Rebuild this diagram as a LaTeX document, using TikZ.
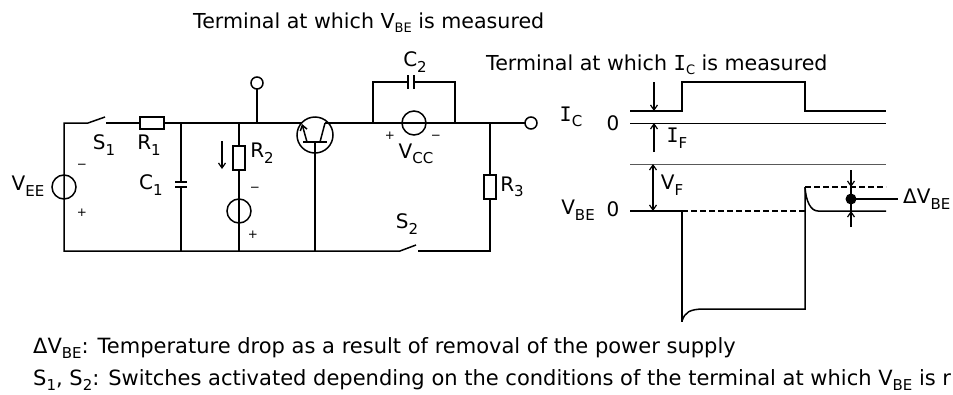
\documentclass[tikz,border=0pt]{standalone}
\usepackage{fontspec}
\setmainfont{DejaVu Sans}
\newfontfamily\serifI{DejaVu Sans Mono}
\usetikzlibrary{arrows.meta}
\newcommand{\Ichar}{{\serifI I}}
\newcommand{\sub}[1]{\raisebox{-0.28em}{\fontsize{15}{17}\selectfont #1}}
\newcommand{\subsm}[1]{\raisebox{-0.2em}{\fontsize{13}{15}\selectfont #1}}
\tikzset{
wire/.style={line width=1.5pt},
thinwire/.style={line width=1pt},
dashwire/.style={line width=1.5pt,dash pattern=on 6pt off 3pt},
res/.style={draw,line width=1.5pt,fill=white},
pole/.style={draw,circle,line width=1.5pt,fill=white,minimum size=12pt,inner sep=0pt},
lab/.style={inner sep=0pt,font=\fontsize{20}{23}\selectfont},
txt/.style={inner sep=0pt,anchor=base west,font=\fontsize{20.6}{24}\selectfont},
note/.style={inner sep=0pt,anchor=base west,font=\fontsize{21}{24}\selectfont},
sgn/.style={inner sep=0pt,font=\fontsize{12}{14}\selectfont},
tip/.style={-{Straight Barb[length=5pt,width=7pt]},line width=1.2pt},
}
\begin{document}
\begin{tikzpicture}[x=1pt,y=-1pt]
\useasboundingbox (0,0) rectangle (953,394);

% circuit
\draw[wire] (88,123) -- (64,123) -- (64,251) -- (400,251) -- (416,245);
\draw[wire] (418,251) -- (490,251) -- (490,123);
\draw[wire] (105,117) -- (88,123);
\draw[wire] (106,123) -- (302,123);
\draw[wire] (325,123) -- (525,123);
\draw[wire] (181,123) -- (181,182);
\draw[wire] (181,187) -- (181,251);
\draw[wire] (175,182) -- (187,182);
\draw[wire] (175,187) -- (187,187);
\draw[wire] (239,123) -- (239,251);
\draw[wire] (257,123) -- (257,89);
\draw[wire] (373,123) -- (373,82) -- (408,82);
\draw[wire] (414,82) -- (455,82) -- (455,123);
\draw[wire] (408,75) -- (408,89);
\draw[wire] (414,75) -- (414,89);
\node[res,minimum width=24pt,minimum height=12pt,inner sep=0pt] (r1) at (152,123) {};
\node[res,minimum width=12pt,minimum height=24pt,inner sep=0pt] (r2) at (239,158) {};
\node[res,minimum width=12pt,minimum height=24pt,inner sep=0pt] (r3) at (490,187) {};
\draw[wire] (64,187) circle (12);
\draw[wire] (239,211) circle (12);
\draw[wire] (414,123) circle (12);
\node[pole] (pb) at (257,83) {};
\node[pole] (pc) at (531,123) {};
\draw[tip] (222,141) -- (222,169);

% transistor
\draw[wire] (315,135) circle (18);
\draw[wire] (315,142) -- (315,251);
\draw[wire] (303,142) -- (327,142);
\draw[wire] (320,142) -- (325,123);
\draw[wire,-{Straight Barb[length=5pt,width=7pt]}] (307,142) -- (302,124);

% labels
\node[lab] at (28,186) {V\sub{EE}};
\node[lab] at (104,145) {S\sub{1}};
\node[lab] at (149,145) {R\sub{1}};
\node[lab] at (151,185) {C\sub{1}};
\node[lab] at (262,153) {R\sub{2}};
\node[lab] at (415,62) {C\sub{2}};
\node[lab] at (416,154) {V\sub{CC}};
\node[lab] at (512,187) {R\sub{3}};
\node[lab] at (407,224) {S\sub{2}};
\node[sgn] at (82,166) {−};
\node[sgn] at (82,213) {+};
\node[sgn] at (255,189) {−};
\node[sgn] at (253,235) {+};
\node[sgn] at (390,136) {+};
\node[sgn] at (436,137) {−};

% waveform
\draw[wire] (630,111) -- (682,111) -- (682,82) -- (805,82) -- (805,111) -- (886,111);
\draw[thinwire] (630,123) -- (886,123);
\draw[thinwire,gray!70!black] (630,164) -- (886,164);
\draw[tip] (654,82) -- (654,111);
\draw[tip] (654,152) -- (654,123);
\draw[{Straight Barb[length=5pt,width=7pt]}-{Straight Barb[length=5pt,width=7pt]},line width=1.2pt] (653,164) -- (653,211);
\draw[wire] (630,211) -- (682,211) -- (682,322);
\draw[dashwire] (682,211) -- (805,211);
\draw[wire] (682,321) .. controls (685,312) and (690,309.5) .. (702,309) -- (805,309) -- (805,187);
\draw[dashwire] (805,187) -- (886,187);
\draw[wire] (805,187) .. controls (806,202) and (811,211) .. (818,211) -- (886,211);
\draw[tip] (851,170) -- (851,187);
\draw[tip] (851,227) -- (851,211);
\draw[wire] (851,187) -- (851,211);
\fill (851,199) circle (5.5);
\draw[wire] (851,199) -- (898,199);

\node[lab] at (571,117) {\Ichar\sub{C}};
\node[lab] at (613,123) {0};
\node[lab] at (677,138) {\Ichar\sub{F}};
\node[lab] at (672,185) {V\sub{F}};
\node[lab] at (578,210) {V\sub{BE}};
\node[lab] at (613,209) {0};
\node[lab,anchor=west] at (903,199) {ΔV\sub{BE}};

% text
\node[txt] at (193,28) {Terminal at which V\subsm{BE} is measured};
\node[txt] at (486,70) {Terminal at which \Ichar\subsm{C} is measured};
\node[note] at (33,353) {ΔV\sub{BE}: Temperature drop as a result of removal of the power supply};
\node[note] at (33,385) {S\sub{1}, S\sub{2}: Switches activated depending on the conditions of the terminal at which V\sub{BE} is r};
\end{tikzpicture}
\end{document}
